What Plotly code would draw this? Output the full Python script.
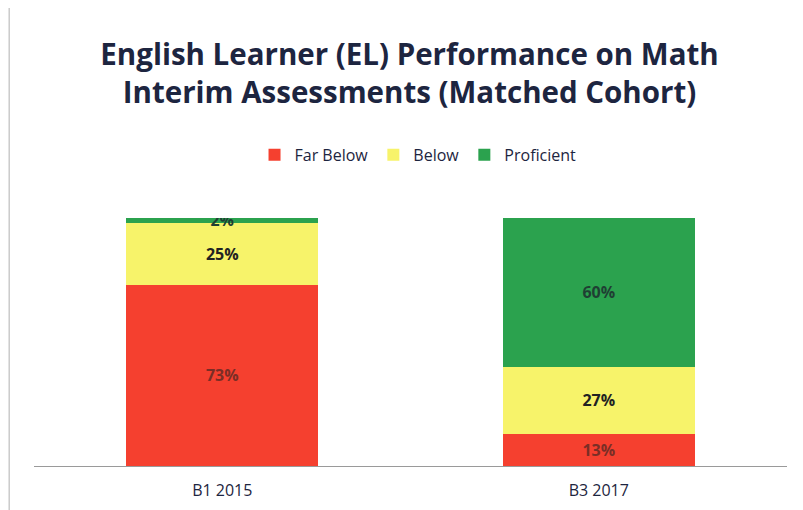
import plotly.graph_objects as go

categories = ["B1 2015", "B3 2017"]
far_below = [73, 13]
below = [25, 27]
proficient = [2, 60]

fig = go.Figure()

fig.add_trace(go.Bar(x=categories, y=far_below, name="Far Below",
                     marker_color="#F5402F", text=[f"{v}%" for v in far_below],
                     textfont=dict(color="#7a2e26")))
fig.add_trace(go.Bar(x=categories, y=below, name="Below",
                     marker_color="#F7F36A", text=[f"{v}%" for v in below],
                     textfont=dict(color="#222222")))
fig.add_trace(go.Bar(x=categories, y=proficient, name="Proficient",
                     marker_color="#2BA24E", text=[f"{v}%" for v in proficient],
                     textfont=dict(color="#1f3f33")))

fig.update_traces(textposition="inside", insidetextanchor="middle", constraintext="none",
                  texttemplate="<b>%{text}</b>",
                  textfont=dict(size=16, family="Open Sans"),
                  marker_line_width=0)

fig.update_layout(
    barmode="stack",
    bargap=0.49,
    width=803, height=510,
    paper_bgcolor="white", plot_bgcolor="white",
    margin=dict(l=26, r=24, t=210, b=52),
    title=dict(text="<b>English Learner (EL) Performance on Math<br>Interim Assessments (Matched Cohort)</b>",
               x=0.5, xanchor="center", yref="container", y=0.888, yanchor="top",
               font=dict(family="Open Sans", size=29.5, color="#1d2540")),
    legend=dict(orientation="h", x=0.51, xanchor="center", yref="container", y=0.712, yanchor="middle",
                font=dict(family="Open Sans", size=16, color="#1d2540"),
                itemwidth=30, traceorder="normal"),
    xaxis=dict(showline=True, linecolor="#9a9a9a", linewidth=1, ticks="", ticklabelstandoff=10,
               tickfont=dict(family="Open Sans", size=16, color="#1d2540")),
    yaxis=dict(range=[0, 100], visible=False, showgrid=False),
    shapes=[dict(type="line", xref="paper", yref="paper", x0=-0.033, x1=-0.033,
                 y0=-0.3, y1=1.9, line=dict(color="#b0b0b0", width=1))],
)

fig.write_html("out.html")
